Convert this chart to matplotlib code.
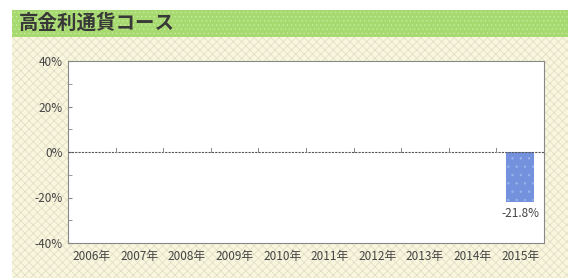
import matplotlib.pyplot as plt
from matplotlib.patches import Rectangle
from matplotlib.ticker import MultipleLocator, FuncFormatter

plt.rcParams['font.family'] = ['Noto Sans CJK JP', 'DejaVu Sans']
plt.rcParams['hatch.linewidth'] = 0.5

years = ['2006年', '2007年', '2008年', '2009年', '2010年',
         '2011年', '2012年', '2013年', '2014年', '2015年']
returns = [None, None, None, None, None, None, None, None, None, -21.8]
title = '高金利通貨コース'

W, H = 568, 278
fig = plt.figure(figsize=(W / 100, H / 100), dpi=100)

# patterned backgrounds on a full-figure axes
bg = fig.add_axes([0, 0, 1, 1], zorder=0)
bg.set_xlim(0, W)
bg.set_ylim(H, 0)
bg.axis('off')
bg.add_patch(Rectangle((12, 37), W - 12, H - 37, facecolor='#f8f6dc', edgecolor='#e0dac6',
                       hatch='xxxx', lw=0))
bg.add_patch(Rectangle((12, 10), W - 12, 27, facecolor='#a6d970', edgecolor='#c8ec9c',
                       hatch='....', lw=0))
bg.text(19, 23, title, fontsize=14, color='#383838', va='center', ha='left',
        fontweight='bold')

ax = fig.add_axes([68 / W, 1 - 243 / H, (544 - 68) / W, (243 - 61) / H], zorder=2)
ax.set_facecolor('white')

x = list(range(len(years)))
for i, v in enumerate(returns):
    if v is None:
        continue
    ax.bar(i, v, width=0.6, color='#7391dc', edgecolor='#9cb4ee', hatch='..', lw=0, zorder=2)
    ax.text(i, v - 2.2, f'{v:.1f}%', ha='center', va='top', fontsize=8.5, color='#444444')

ax.set_xlim(-0.5, len(years) - 0.5)
ax.set_ylim(-40, 40)
ax.axhline(0, color='#555555', lw=0.8, ls=(0, (2, 1)), zorder=3)

# small ticks on zero line between categories
for b in range(1, len(years)):
    ax.plot([b - 0.5, b - 0.5], [0, 1.8], color='#888888', lw=0.7, zorder=3)

ax.yaxis.set_major_locator(MultipleLocator(20))
ax.yaxis.set_minor_locator(MultipleLocator(10))
ax.yaxis.set_major_formatter(FuncFormatter(lambda v, p: f'{v:.0f}%'))
ax.tick_params(axis='y', which='both', direction='in', length=3, color='#888888',
               labelsize=8.5, labelcolor='#444444', pad=4)
ax.set_xticks(x)
ax.set_xticklabels(years)
ax.tick_params(axis='x', length=0, labelsize=8.5, labelcolor='#444444', pad=5)

for s in ax.spines.values():
    s.set_color('#888888')
    s.set_linestyle((0, (2, 1)))
    s.set_linewidth(0.8)

fig.savefig('out.png', dpi=100)
